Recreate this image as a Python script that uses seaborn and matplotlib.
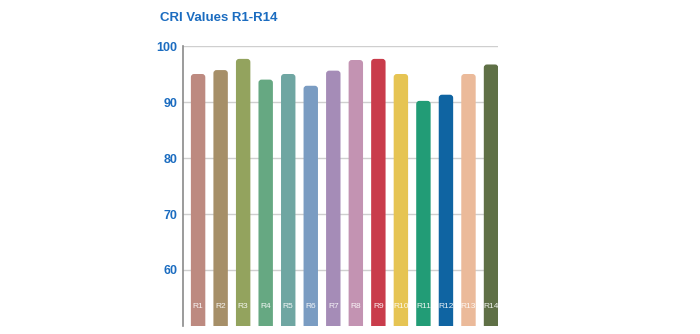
import matplotlib
matplotlib.use("Agg")
import matplotlib.pyplot as plt
import seaborn as sns
import pandas as pd
from matplotlib.patches import FancyBboxPatch

categories = ["R1", "R2", "R3", "R4", "R5", "R6", "R7", "R8", "R9", "R10", "R11", "R12", "R13", "R14"]
values = [95.0, 95.7, 97.7, 94.0, 95.0, 92.9, 95.6, 97.5, 97.7, 95.0, 90.2, 91.3, 95.0, 96.7]
colors = ["#bd8a80", "#a68f68", "#93a35e", "#66a882", "#6fa6a2", "#7a9cc2", "#a58cb7",
          "#c393b2", "#c93c4b", "#e6c453", "#229c76", "#0f64a2", "#ebba9a", "#5f7046"]
yticks = [60, 70, 80, 90, 100]
title = "CRI Values R1-R14"

sns.set_style("white")
plt.rcParams["font.family"] = ["Liberation Sans", "DejaVu Sans"]

df = pd.DataFrame({"cat": categories, "val": values})
fig = plt.figure(figsize=(7.0, 3.34), dpi=100)
ax = fig.add_axes([183 / 700, 1 - 326 / 334, (498 - 183) / 700, (326 - 46) / 334])

sns.barplot(data=df, x="cat", y="val", hue="cat", palette=colors, legend=False,
            width=0.64, saturation=1, ax=ax, zorder=3)

ax.set_ylim(50, 100)
ax.set_xlim(-0.67, 13.31)

# rounded tops
px_x = (498 - 183) / (13.31 + 0.67)
px_y = (326 - 46) / 50
for p in list(ax.patches):
    x, y = p.get_x(), p.get_y()
    w, h = p.get_width(), p.get_height()
    fc = p.get_facecolor()
    p.remove()
    fb = FancyBboxPatch((x, y), w, h, boxstyle="round,pad=0,rounding_size=0.14",
                        mutation_aspect=px_x / px_y, facecolor=fc, edgecolor="none",
                        zorder=3)
    ax.add_patch(fb)

for i, c in enumerate(categories):
    ax.text(i, 53.4, c, ha="center", va="center", color="white", fontsize=6.0,
            alpha=0.9, zorder=4)

ax.set_yticks(yticks)
ax.set_yticklabels([str(t) for t in yticks])
ax.set_xticks([])
ax.set_xlabel("")
ax.set_ylabel("")
ax.tick_params(axis="y", length=0, pad=4, labelsize=9, labelcolor="#1b6cc0")
for lab in ax.get_yticklabels():
    lab.set_fontweight("bold")

ax.yaxis.grid(True, color="#cfcfcf", linewidth=1.0, zorder=0)
ax.set_axisbelow(True)
for s in ["top", "right", "bottom"]:
    ax.spines[s].set_visible(False)
ax.spines["left"].set_color("#8a8a8a")
ax.spines["left"].set_linewidth(1.2)

fig.text(160 / 700, 1 - 18 / 334, title, ha="left", va="center", fontsize=9.5,
         fontweight="bold", color="#1b6cc0")

fig.savefig("out.png", dpi=100)
